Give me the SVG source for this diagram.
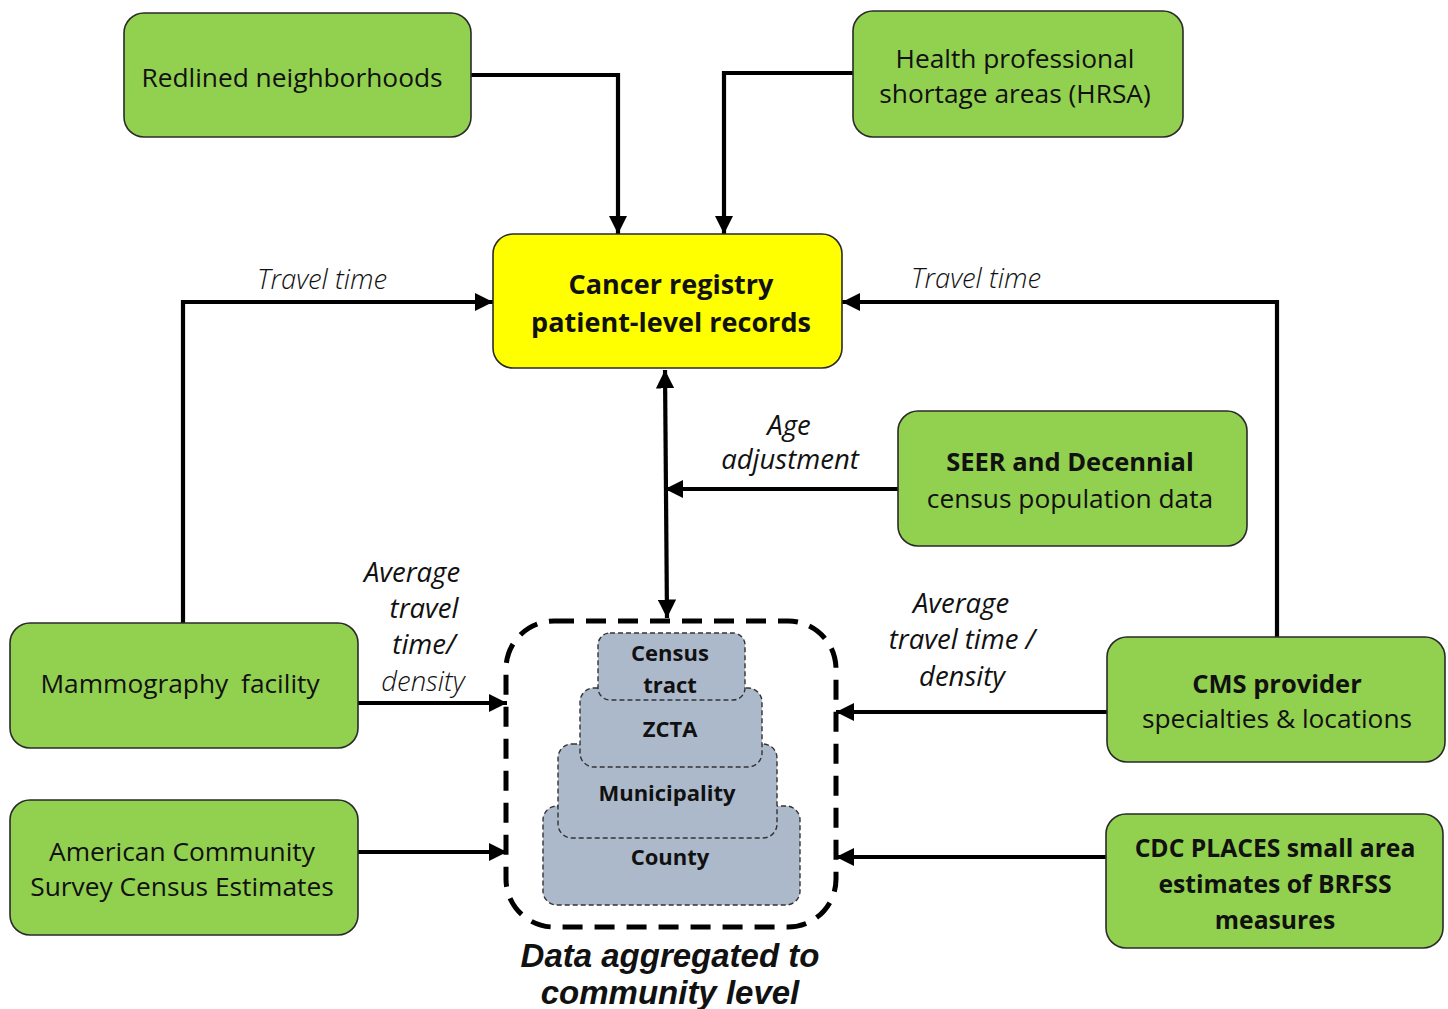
<svg xmlns="http://www.w3.org/2000/svg" width="1448" height="1009" viewBox="0 0 1448 1009">
<defs>
<marker id="ah" viewBox="0 0 10 10" refX="10" refY="5" markerWidth="4.4" markerHeight="4.4" orient="auto-start-reverse" markerUnits="strokeWidth">
<path d="M0,0 L10,5 L0,10 z" fill="#000"/>
</marker>
<style>
.g{fill:#92d050;stroke:#2a2a2a;stroke-width:1.6}
.y{fill:#ffff00;stroke:#2a2a2a;stroke-width:1.6}
.lv{fill:#acb9ca;stroke:#333;stroke-width:1.4;stroke-dasharray:5 3}
.c{fill:none;stroke:#000;stroke-width:4.2;marker-end:url(#ah)}
.t{font-family:"Open Sans","Noto Sans",sans-serif;font-size:26.3px;fill:#111;text-anchor:middle}
.b{font-weight:bold;font-size:25.5px}
.i{font-family:"Open Sans","Noto Sans",sans-serif;font-style:italic;font-size:27.5px;fill:#111;text-anchor:middle}
.s{font-family:"Open Sans","Noto Sans",sans-serif;font-weight:bold;font-size:22px;fill:#111;text-anchor:middle}
.f{font-family:"Liberation Sans",Arial,sans-serif;font-weight:bold;font-style:italic;font-size:33px;fill:#111;text-anchor:middle}
</style>
</defs>
<rect width="1448" height="1009" fill="#fff"/>

<g id="connectors">
<polyline class="c" points="471,75 618,75 618,234"/>
<polyline class="c" points="853,73 724,73 724,234"/>
<polyline class="c" points="183,623 183,302 493,302"/>
<polyline class="c" points="1277,637 1277,302 842,302"/>
<line x1="665" y1="370" x2="667" y2="618" style="fill:none;stroke:#000;stroke-width:4.2;marker-start:url(#ah);marker-end:url(#ah)"/>
<line class="c" x1="898" y1="489" x2="665" y2="489"/>
<line class="c" x1="358" y1="703" x2="507" y2="703"/>
<line class="c" x1="358" y1="852" x2="507" y2="852"/>
<line class="c" x1="1107" y1="712" x2="836" y2="712"/>
<line class="c" x1="1106" y1="857" x2="836" y2="857"/>
<text class="i" x="322" y="289" style="font-weight:300">Travel time</text>
<text class="i" x="976" y="288" style="font-weight:300">Travel time</text>
<text class="i" x="789" y="435" style="font-weight:500">Age</text>
<text class="i" x="790" y="469" style="font-weight:500">adjustment</text>
<text class="i" x="412" y="582" style="font-weight:500">Average</text>
<text class="i" x="424" y="618" style="font-weight:500">travel</text>
<text class="i" x="424" y="654" style="font-weight:500">time/</text>
<text class="i" x="423" y="691" style="font-weight:300">density</text>
<text class="i" x="961" y="613" style="font-weight:500">Average</text>
<text class="i" x="962" y="649" style="font-weight:500">travel time /</text>
<text class="i" x="962" y="686" style="font-weight:500">density</text>
</g>

<g id="redlined">
<rect class="g" x="124" y="13" width="347" height="124" rx="20"/>
<text class="t" x="292" y="87">Redlined neighborhoods</text>
</g>
<g id="hrsa">
<rect class="g" x="853" y="11" width="330" height="126" rx="20"/>
<text class="t" x="1015" y="68">Health professional</text>
<text class="t" x="1015" y="103">shortage areas (HRSA)</text>
</g>
<g id="registry">
<rect class="y" x="493" y="234" width="349" height="134" rx="20"/>
<text class="t b" x="671" y="294" style="font-size:27px">Cancer registry</text>
<text class="t b" x="671" y="332" style="font-size:27px">patient-level records</text>
</g>
<g id="seer">
<rect class="g" x="898" y="411" width="349" height="135" rx="20"/>
<text class="t b" x="1070" y="471">SEER and Decennial</text>
<text class="t" x="1070" y="508">census population data</text>
</g>
<g id="mammography">
<rect class="g" x="10" y="623" width="348" height="125" rx="20"/>
<text class="t" x="180" y="693" style="word-spacing:6px">Mammography facility</text>
</g>
<g id="acs">
<rect class="g" x="10" y="800" width="348" height="135" rx="20"/>
<text class="t" x="182" y="861">American Community</text>
<text class="t" x="182" y="896">Survey Census Estimates</text>
</g>
<g id="cms">
<rect class="g" x="1107" y="637" width="338" height="125" rx="20"/>
<text class="t b" x="1277" y="693">CMS provider</text>
<text class="t" x="1277" y="728">specialties &amp; locations</text>
</g>
<g id="cdc">
<rect class="g" x="1106" y="814" width="337" height="134" rx="20"/>
<text class="t b" x="1275" y="857" style="font-size:24.7px">CDC PLACES small area</text>
<text class="t b" x="1275" y="893" style="font-size:24.7px">estimates of BRFSS</text>
<text class="t b" x="1275" y="929" style="font-size:24.7px">measures</text>
</g>

<g id="community">
<rect x="506" y="621" width="330" height="306" rx="48" fill="none" stroke="#000" stroke-width="5" stroke-dasharray="20 12"/>
<g id="county">
<rect class="lv" x="543" y="806" width="257" height="99" rx="14"/>
<text class="s" x="670" y="865">County</text>
</g>
<g id="municipality">
<rect class="lv" x="558" y="744" width="219" height="94" rx="14"/>
<text class="s" x="667" y="801">Municipality</text>
</g>
<g id="zcta">
<rect class="lv" x="580" y="688" width="182" height="79" rx="14"/>
<text class="s" x="670" y="737">ZCTA</text>
</g>
<g id="tract">
<rect class="lv" x="598" y="633" width="147" height="67" rx="12"/>
<text class="s" x="670" y="661">Census</text>
<text class="s" x="670" y="693">tract</text>
</g>
<text class="f" x="670" y="967">Data aggregated to</text>
<text class="f" x="670" y="1004">community level</text>
</g>
</svg>
